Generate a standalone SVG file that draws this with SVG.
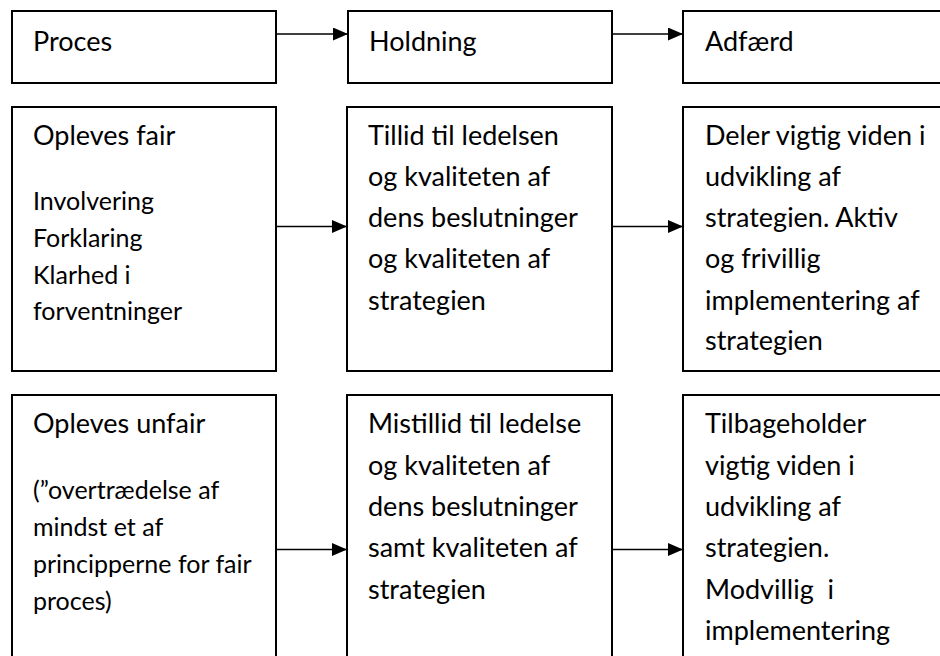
<svg xmlns="http://www.w3.org/2000/svg" width="940" height="656" viewBox="0 0 940 656">
  <defs>
    <marker id="arr" viewBox="0 0 15 13" refX="15" refY="6.5" markerWidth="15" markerHeight="13" markerUnits="userSpaceOnUse" orient="auto">
      <path d="M0,0 L15,6.5 L0,13 Z" fill="#000"/>
    </marker>
    <style>
      .box { fill: #fff; stroke: #000; stroke-width: 2; }
      .t { font-family: "Lato", "Liberation Sans", sans-serif; font-size: 27px; fill: #000; }
      .s { font-family: "Lato", "Liberation Sans", sans-serif; font-size: 25px; fill: #000; }
      .conn line { stroke: #000; stroke-width: 1.6; marker-end: url(#arr); }
    </style>
  </defs>
  <rect width="940" height="656" fill="#fff"/>

  <g id="conn" class="conn">
    <line x1="276" y1="34" x2="348" y2="34"/>
    <line x1="612" y1="34" x2="683" y2="34"/>
    <line x1="276" y1="226.5" x2="347" y2="226.5"/>
    <line x1="612" y1="226.5" x2="683" y2="226.5"/>
    <line x1="276" y1="549.5" x2="347" y2="549.5"/>
    <line x1="612" y1="549.5" x2="683" y2="549.5"/>
  </g>

  <g id="proces">
    <rect class="box" x="12" y="11" width="264" height="72"/>
    <text class="t" x="33" y="51">Proces</text>
  </g>
  <g id="holdning">
    <rect class="box" x="348" y="11" width="264" height="72"/>
    <text class="t" x="369" y="51">Holdning</text>
  </g>
  <g id="adfaerd">
    <rect class="box" x="683" y="11" width="280" height="72"/>
    <text class="t" x="705" y="51">Adfærd</text>
  </g>

  <g id="fair">
    <rect class="box" x="12" y="107" width="264" height="264"/>
    <text class="t" x="33" y="145">Opleves fair</text>
    <text class="s" x="33" y="210">Involvering</text>
    <text class="s" x="33" y="247">Forklaring</text>
    <text class="s" x="33" y="284">Klarhed i</text>
    <text class="s" x="33" y="320">forventninger</text>
  </g>
  <g id="tillid">
    <rect class="box" x="347" y="107" width="265" height="264"/>
    <text class="t" x="368" y="145">Tillid til ledelsen</text>
    <text class="t" x="368" y="186">og kvaliteten af</text>
    <text class="t" x="368" y="227">dens beslutninger</text>
    <text class="t" x="368" y="268">og kvaliteten af</text>
    <text class="t" x="368" y="310">strategien</text>
  </g>
  <g id="deler">
    <rect class="box" x="683" y="107" width="280" height="264"/>
    <text class="t" x="705" y="145">Deler vigtig viden i</text>
    <text class="t" x="705" y="186">udvikling af</text>
    <text class="t" x="705" y="227">strategien. Aktiv</text>
    <text class="t" x="705" y="268">og frivillig</text>
    <text class="t" x="705" y="310">implementering af</text>
    <text class="t" x="705" y="350">strategien</text>
  </g>

  <g id="unfair">
    <rect class="box" x="12" y="395" width="264" height="280"/>
    <text class="t" x="33" y="433">Opleves unfair</text>
    <text class="s" x="33" y="499">(”overtrædelse af</text>
    <text class="s" x="33" y="536">mindst et af</text>
    <text class="s" x="33" y="573">principperne for fair</text>
    <text class="s" x="33" y="610">proces)</text>
  </g>
  <g id="mistillid">
    <rect class="box" x="347" y="395" width="265" height="280"/>
    <text class="t" x="368" y="433">Mistillid til ledelse</text>
    <text class="t" x="368" y="475">og kvaliteten af</text>
    <text class="t" x="368" y="516">dens beslutninger</text>
    <text class="t" x="368" y="557">samt kvaliteten af</text>
    <text class="t" x="368" y="599">strategien</text>
  </g>
  <g id="tilbageholder">
    <rect class="box" x="683" y="395" width="280" height="280"/>
    <text class="t" x="705" y="433">Tilbageholder</text>
    <text class="t" x="705" y="475">vigtig viden i</text>
    <text class="t" x="705" y="516">udvikling af</text>
    <text class="t" x="705" y="557">strategien.</text>
    <text class="t" x="705" y="599">Modvillig&#160; i</text>
    <text class="t" x="705" y="640">implementering</text>
  </g>
</svg>
